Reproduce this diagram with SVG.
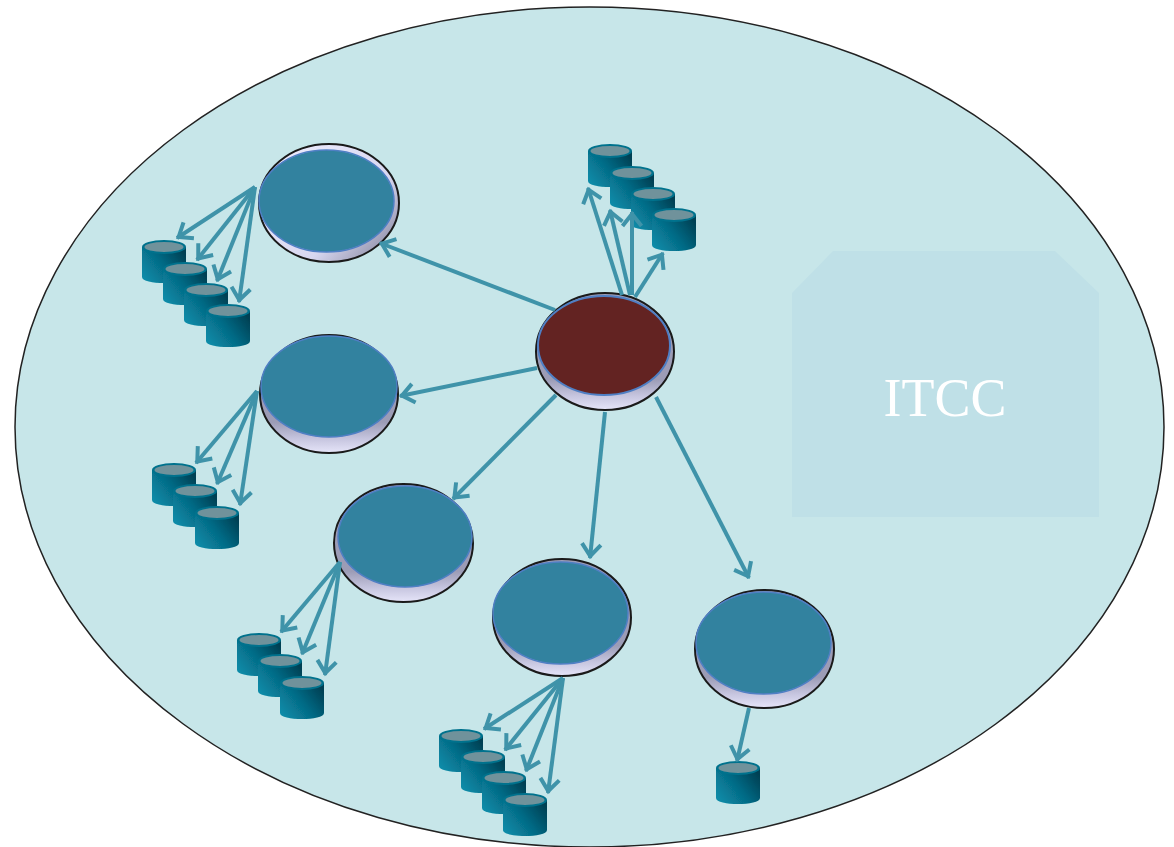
<svg xmlns="http://www.w3.org/2000/svg" width="1174" height="847" viewBox="0 0 1174 847">
<style>
.conn line{stroke:#3f93a9;stroke-width:4;fill:none;marker-end:url(#arrow)}
.outer{stroke:#1a1a1a;stroke-width:2}
.inner{fill:#32829f;stroke:#4f7fc4;stroke-width:1.5}
.hub{fill:#632322;stroke:#4f7fc4;stroke-width:2}
</style>
<defs>
<marker id="arrow" markerUnits="userSpaceOnUse" markerWidth="30" markerHeight="30" refX="25" refY="15" orient="auto" overflow="visible">
<path d="M11,5.5 L23,15 L11,24.5" fill="none" stroke="#3f93a9" stroke-width="4"/>
</marker>
<linearGradient id="cyl" x1="0" x2="1" y1="0.8" y2="0.2">
<stop offset="0" stop-color="#0a8ba8"/><stop offset="0.5" stop-color="#056a85"/><stop offset="1" stop-color="#023f52"/>
</linearGradient>
<linearGradient id="discDown" x1="0" x2="0" y1="0" y2="1">
<stop offset="0.74" stop-color="#9c9cb6"/><stop offset="0.88" stop-color="#c6c5df"/><stop offset="1" stop-color="#e6e5f9"/>
</linearGradient>
<linearGradient id="discUp" x1="0" x2="1" y1="0" y2="0.8">
<stop offset="0" stop-color="#f0efff"/><stop offset="0.7" stop-color="#d8d7f0"/><stop offset="1" stop-color="#8f8fa8"/>
</linearGradient>
<filter id="soft" x="-15%" y="-15%" width="130%" height="130%"><feGaussianBlur stdDeviation="0.7"/></filter>
<g id="db" filter="url(#soft)">
<path d="M0,7 V37 C0,45 44,45 44,37 V7 Z" fill="url(#cyl)"/>
<ellipse cx="22" cy="7" rx="22" ry="7" fill="#05728d"/>
<ellipse cx="22" cy="7" rx="19.5" ry="5" fill="#6f929b"/>
</g>
</defs>

<g id="boundary">
<ellipse cx="589.5" cy="427" rx="574.5" ry="420" fill="#c7e6e9" stroke="#222" stroke-width="1.5"/>
</g>

<g id="itcc">
<polygon points="792,293 833,251 1055,251 1099,293 1099,517 792,517" fill="#bfe0e7"/>
<text x="945" y="416" text-anchor="middle" font-family="'Liberation Serif',serif" font-size="54" fill="#ffffff">ITCC</text>
</g>

<g id="hub">
<ellipse class="outer" cx="605" cy="351.5" rx="69" ry="58.5" fill="url(#discDown)"/>
<ellipse class="hub" cx="604" cy="345.5" rx="66" ry="49.5"/>
</g>
<g id="node-1">
<ellipse class="outer" cx="329" cy="203" rx="70" ry="59" fill="url(#discUp)"/>
<ellipse class="inner" cx="326.5" cy="201" rx="67.5" ry="51"/>
</g>
<g id="node-2">
<ellipse class="outer" cx="329" cy="394" rx="69" ry="59" fill="url(#discDown)"/>
<ellipse class="inner" cx="329" cy="386.5" rx="68" ry="50.5"/>
</g>
<g id="node-3">
<ellipse class="outer" cx="403.5" cy="543" rx="69.5" ry="59" fill="url(#discDown)"/>
<ellipse class="inner" cx="405" cy="536.5" rx="67" ry="50.5"/>
</g>
<g id="node-4">
<ellipse class="outer" cx="562" cy="617.5" rx="69" ry="58.5" fill="url(#discDown)"/>
<ellipse class="inner" cx="560.5" cy="613" rx="67.5" ry="51"/>
</g>
<g id="node-5">
<ellipse class="outer" cx="764.5" cy="649" rx="69.5" ry="59" fill="url(#discDown)"/>
<ellipse class="inner" cx="763.5" cy="643" rx="67.5" ry="51"/>
</g>

<g id="db-hub">
<use href="#db" x="588" y="144"/>
<use href="#db" x="610" y="166"/>
<use href="#db" x="631" y="187"/>
<use href="#db" x="652" y="208"/>
</g>
<g id="db-1">
<use href="#db" x="142" y="240"/>
<use href="#db" x="163" y="262"/>
<use href="#db" x="184" y="283"/>
<use href="#db" x="206" y="304"/>
</g>
<g id="db-2">
<use href="#db" x="152" y="463"/>
<use href="#db" x="173" y="484"/>
<use href="#db" x="195" y="506"/>
</g>
<g id="db-3">
<use href="#db" x="237" y="633"/>
<use href="#db" x="258" y="654"/>
<use href="#db" x="280" y="676"/>
</g>
<g id="db-4">
<use href="#db" x="439" y="729"/>
<use href="#db" x="461" y="750"/>
<use href="#db" x="482" y="771"/>
<use href="#db" x="503" y="793"/>
</g>
<g id="db-5">
<use href="#db" x="716" y="761"/>
</g>

<g id="connectors" class="conn">
<line x1="555" y1="310" x2="380" y2="243"/>
<line x1="537" y1="368" x2="400" y2="396"/>
<line x1="556" y1="395" x2="453" y2="499"/>
<line x1="605" y1="412" x2="590" y2="558"/>
<line x1="656" y1="397" x2="749" y2="578"/>
<line x1="622" y1="295" x2="588" y2="188"/>
<line x1="630" y1="295" x2="610" y2="210"/>
<line x1="632" y1="295" x2="632" y2="212"/>
<line x1="635" y1="297" x2="663" y2="253"/>
<line x1="255" y1="187" x2="177" y2="238"/>
<line x1="255" y1="187" x2="197" y2="260"/>
<line x1="255" y1="187" x2="217" y2="281"/>
<line x1="255" y1="187" x2="239" y2="302"/>
<line x1="257" y1="391" x2="196" y2="463"/>
<line x1="257" y1="391" x2="217" y2="484"/>
<line x1="257" y1="391" x2="240" y2="505"/>
<line x1="340" y1="562" x2="281" y2="632"/>
<line x1="340" y1="562" x2="302" y2="654"/>
<line x1="340" y1="562" x2="325" y2="675"/>
<line x1="563" y1="678" x2="484" y2="729"/>
<line x1="563" y1="678" x2="505" y2="750"/>
<line x1="563" y1="678" x2="526" y2="771"/>
<line x1="563" y1="678" x2="548" y2="793"/>
<line x1="749" y1="708" x2="737" y2="761"/>
</g>
</svg>
